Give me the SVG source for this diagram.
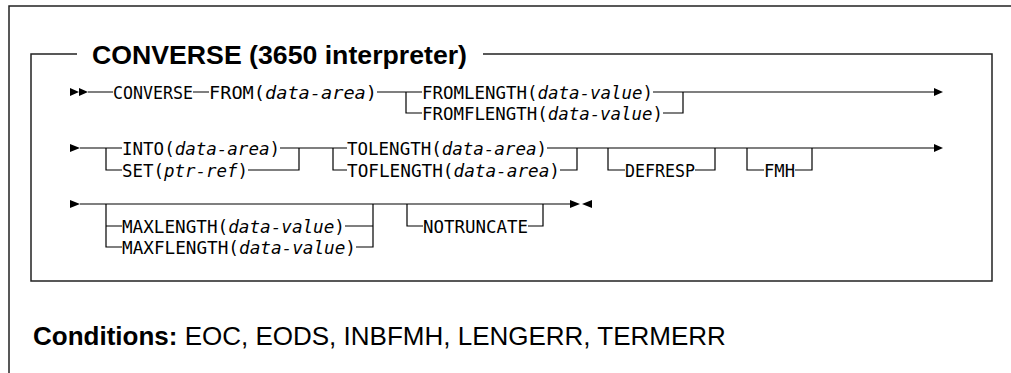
<svg xmlns="http://www.w3.org/2000/svg" width="1011" height="373" viewBox="0 0 1011 373">
<style>
.frame{fill:none;stroke:#222;stroke-width:1.5}
.ln{fill:none;stroke:#000;stroke-width:1.2}
.ah{fill:#000}
.m{font-family:"DejaVu Sans Mono",monospace;font-size:17.5px;fill:#000}
.i{font-style:italic}
.title{font-family:"Liberation Sans",Arial,sans-serif;font-weight:bold;font-size:25px;fill:#000}
.cond{font-family:"Liberation Sans",Arial,sans-serif;font-size:26px;fill:#000}
</style>
<g id="frame">
<path class="frame" d="M9,373 V6 H1011"/>
<path class="frame" d="M77,54 H31 V281 H992 V54 H483"/>
</g>
<g id="title"><text class="title" x="92" y="63.5" textLength="375" lengthAdjust="spacingAndGlyphs">CONVERSE (3650 interpreter)</text></g>
<g id="connectors">
<path class="ln" d="M88,92 H113 M193,92 H209 M377,92 H422 M406,92 V113 H422 M653,92 H936 M663,113 H683 V92"/>
<path class="ln" d="M80,148 H122 M106,148 V170 H122 M280,148 H347 M248,170 H299 V148 M333,148 V170 H347 M547,148 H936 M560,170 H577 V148 M608,148 V170 H625 M695,170 H715 V148 M747,148 V170 H764 M795,170 H812 V148"/>
<path class="ln" d="M80,204 H572 M106,204 V247 H122 M106,226 H122 M345,226 H373 M356,247 H373 V204 M407,204 V226 H423 M528,226 H543 V204"/>
<polygon class="ah" points="70,88 70,96 79,92"/>
<polygon class="ah" points="79,88 79,96 88,92"/>
<polygon class="ah" points="934,88 934,96 943,92"/>
<polygon class="ah" points="70,144 70,152 80,148"/>
<polygon class="ah" points="934,144 934,152 943,148"/>
<polygon class="ah" points="70,200 70,208 80,204"/>
<polygon class="ah" points="570,200 570,208 580,204"/>
<polygon class="ah" points="592,200 592,208 582,204"/>
</g>
<g id="n-converse"><text class="m" x="113" y="98.5" textLength="80" lengthAdjust="spacingAndGlyphs">CONVERSE</text></g>
<g id="n-from"><text class="m" x="209" y="98.5" textLength="168" lengthAdjust="spacingAndGlyphs">FROM(<tspan class="i">data-area</tspan>)</text></g>
<g id="n-fromlength"><text class="m" x="422" y="98.5" textLength="231" lengthAdjust="spacingAndGlyphs">FROMLENGTH(<tspan class="i">data-value</tspan>)</text></g>
<g id="n-fromflength"><text class="m" x="422" y="119.5" textLength="241" lengthAdjust="spacingAndGlyphs">FROMFLENGTH(<tspan class="i">data-value</tspan>)</text></g>
<g id="n-into"><text class="m" x="122" y="154.5" textLength="158" lengthAdjust="spacingAndGlyphs">INTO(<tspan class="i">data-area</tspan>)</text></g>
<g id="n-set"><text class="m" x="122" y="176.5" textLength="126" lengthAdjust="spacingAndGlyphs">SET(<tspan class="i">ptr-ref</tspan>)</text></g>
<g id="n-tolength"><text class="m" x="347" y="154.5" textLength="200" lengthAdjust="spacingAndGlyphs">TOLENGTH(<tspan class="i">data-area</tspan>)</text></g>
<g id="n-toflength"><text class="m" x="347" y="176.5" textLength="213" lengthAdjust="spacingAndGlyphs">TOFLENGTH(<tspan class="i">data-area</tspan>)</text></g>
<g id="n-defresp"><text class="m" x="625" y="176.5" textLength="70" lengthAdjust="spacingAndGlyphs">DEFRESP</text></g>
<g id="n-fmh"><text class="m" x="764" y="176.5" textLength="31" lengthAdjust="spacingAndGlyphs">FMH</text></g>
<g id="n-maxlength"><text class="m" x="122" y="232.5" textLength="223" lengthAdjust="spacingAndGlyphs">MAXLENGTH(<tspan class="i">data-value</tspan>)</text></g>
<g id="n-maxflength"><text class="m" x="122" y="253.5" textLength="234" lengthAdjust="spacingAndGlyphs">MAXFLENGTH(<tspan class="i">data-value</tspan>)</text></g>
<g id="n-notruncate"><text class="m" x="423" y="232.5" textLength="105" lengthAdjust="spacingAndGlyphs">NOTRUNCATE</text></g>
<g id="conditions">
<text class="cond" x="33" y="345"><tspan font-weight="bold">Conditions:</tspan> EOC, EODS, INBFMH, LENGERR, TERMERR</text>
</g>
</svg>
